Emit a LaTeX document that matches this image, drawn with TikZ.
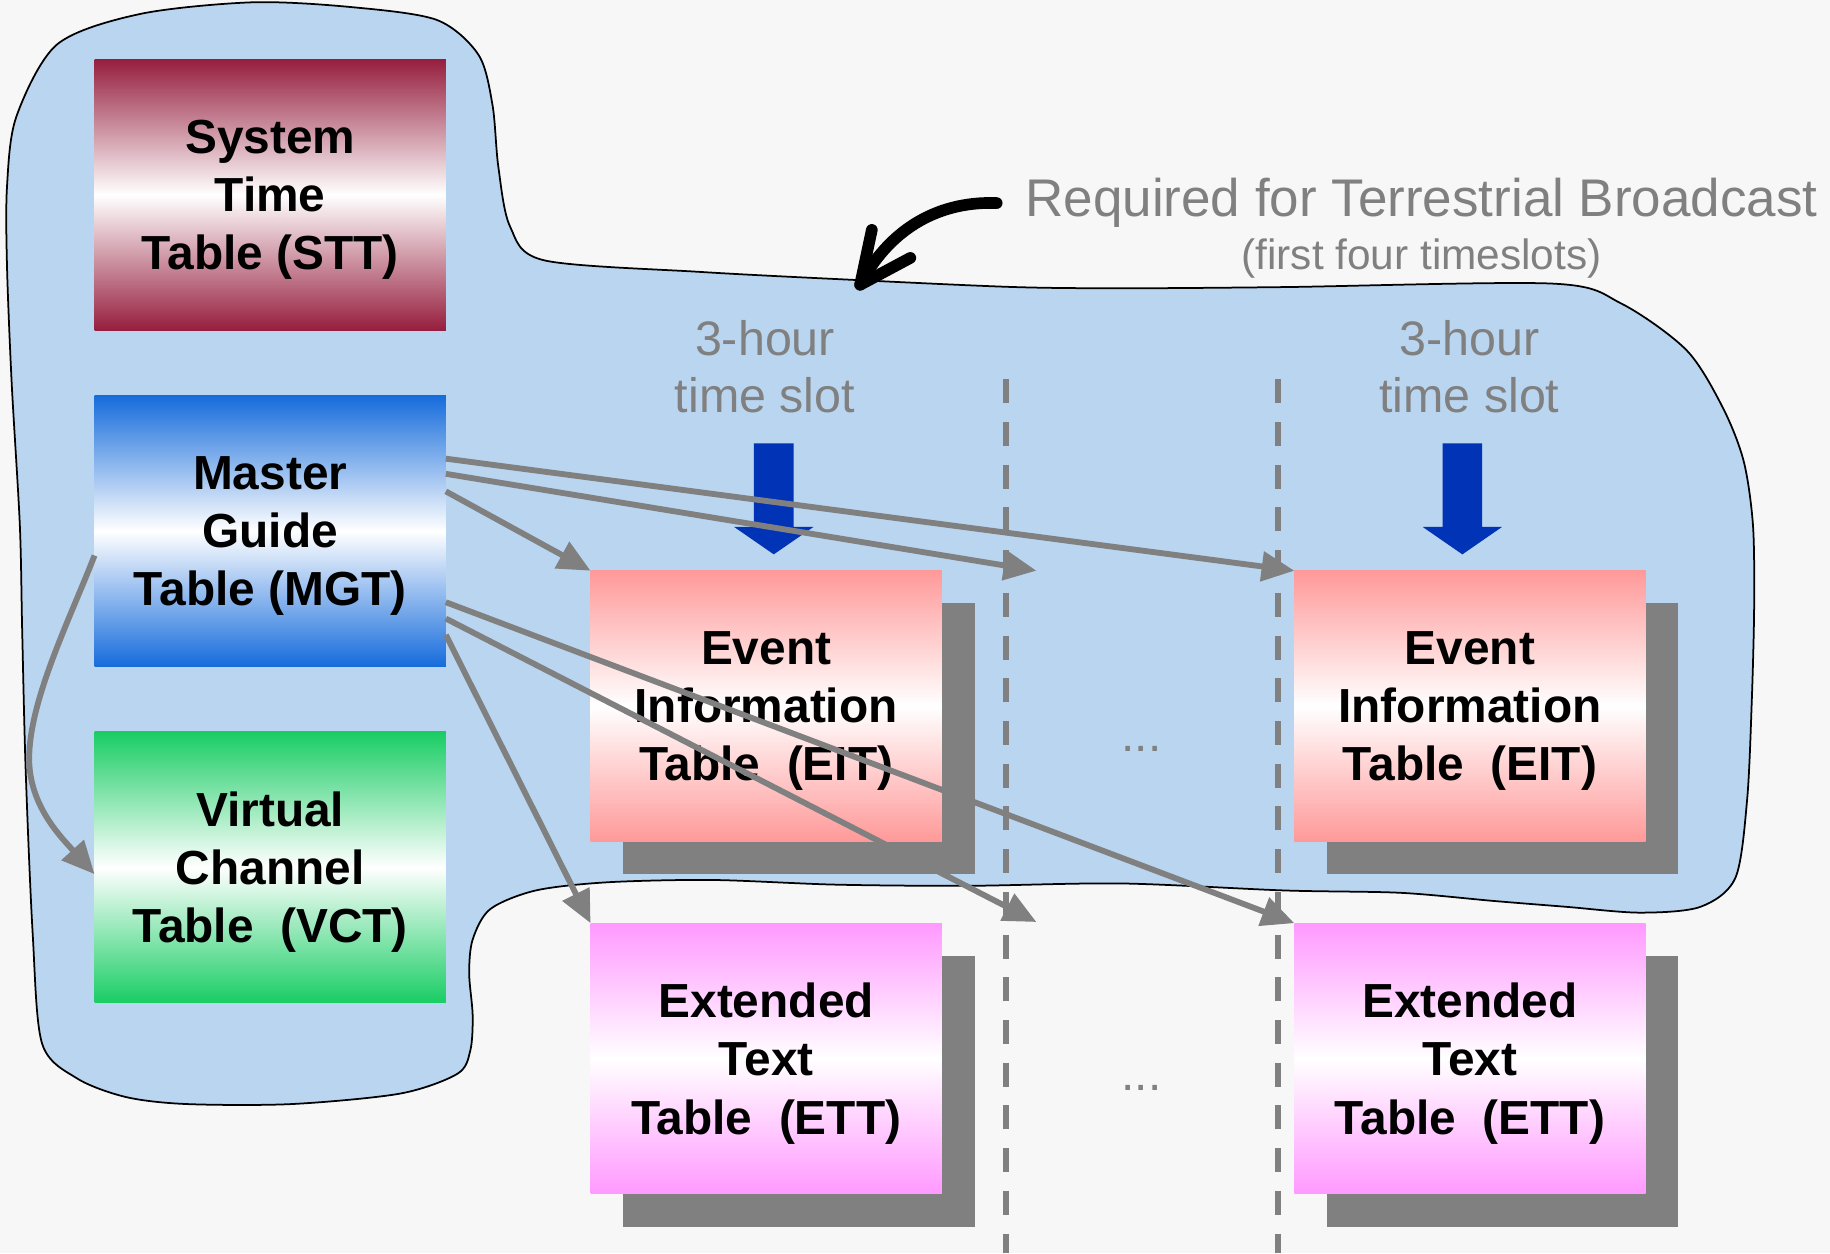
\documentclass[tikz,border=0pt]{standalone}
\usepackage{fontspec}
\setmainfont{Liberation Sans}
\usetikzlibrary{arrows.meta,calc,shadows}

\definecolor{paper}{RGB}{247,247,247}
\definecolor{zone}{RGB}{185,213,239}
\definecolor{sttred}{RGB}{150,30,62}
\definecolor{mgtblue}{RGB}{22,108,220}
\definecolor{vctgreen}{RGB}{25,205,100}
\definecolor{eitpink}{RGB}{255,153,153}
\definecolor{ettpink}{RGB}{255,153,255}
\definecolor{slotblue}{RGB}{0,51,181}
\definecolor{linkgray}{RGB}{128,128,128}

\begin{document}
\begin{tikzpicture}[x=0.1mm, y=-0.1mm,
  tablebox/.style={minimum width=30.1mm, minimum height=23.2mm, inner sep=0pt,
    outer sep=0pt, align=center, text depth=-0.5mm,
    font=\bfseries\fontsize{11.66pt}{14.22pt}\selectfont},
  grad/.style={tablebox, top color=#1, bottom color=#1, middle color=white},
  shadowed/.style={general shadow={fill=linkgray, shadow xshift=2.8mm, shadow yshift=-2.8mm}},
  link/.style={draw=linkgray, line width=0.5mm, -{Triangle[length=2.8mm,width=2.5mm]}},
  divider/.style={draw=linkgray, line width=0.49mm, dash pattern=on 2.06mm off 1.6mm},
  graytext/.style={text=linkgray, inner sep=0pt},
  slotfont/.style={font=\fontsize{11.8pt}{13.8pt}\selectfont},
]

% page
\fill[paper] (0,0) rectangle (1568,1074);
\useasboundingbox (0,0) rectangle (1568,1074);

% region of tables required for terrestrial broadcast
\filldraw[fill=zone, draw=black, line width=0.15mm]
  plot[smooth cycle, tension=0.5] coordinates {
  (216,2) (300,6) (374,17) (410,47) (422,90) (427,143) (437,194) (466,223)
  (600,233) (735,240) (870,246) (967,247) (1100,246) (1330,243) (1389,260)
  (1445,300) (1476,349) (1494,395) (1502,450) (1503,520) (1501,600) (1497,685)
  (1487,752) (1457,777) (1405,782) (1342,777) (1280,772) (1200,765) (1101,763)
  (961,757) (830,759) (716,758) (610,754) (520,756) (459,763) (420,779)
  (405,805) (402,834) (405,870) (403,900) (392,920) (343,937) (250,946)
  (160,946) (108,940) (66,924) (36,894) (28,800) (22,660) (19,540) (17,450)
  (10,328) (6,228) (6,160) (14,100) (49,38) (120,12)};

% time slot dividers
\coordinate (d1top) at (862,325);
\coordinate (d1bot) at (862,1074);
\coordinate (d2top) at (1095,325);
\coordinate (d2bot) at (1095,1074);
\draw[divider] (d1top) -- (d1bot);
\draw[divider] (d2top) -- (d2bot);

% tables
\node[grad=sttred] (stt) at (231.5,167) {System\\Time\\Table (STT)};
\node[grad=mgtblue] (mgt) at (231.5,455) {Master\\Guide\\Table (MGT)};
\node[grad=vctgreen] (vct) at (231.5,743) {Virtual\\Channel\\Table\ \ (VCT)};
\node[grad=eitpink, shadowed] (eit1) at (656.5,605) {Event\\Information\\Table\ \ (EIT)};
\node[grad=eitpink, shadowed] (eit2) at (1259.5,605) {Event\\Information\\Table\ \ (EIT)};
\node[grad=ettpink, shadowed] (ett1) at (656.5,907) {Extended\\Text\\Table\ \ (ETT)};
\node[grad=ettpink, shadowed] (ett2) at (1259.5,907) {Extended\\Text\\Table\ \ (ETT)};

% labels
\node[graytext, slotfont, align=center] (slot1) at (655.5,314) {3-hour\\time slot};
\node[graytext, slotfont, align=center] (slot2) at (1259,314) {3-hour\\time slot};
\node[graytext, font=\fontsize{11.66pt}{14pt}\selectfont, anchor=base] (more1) at (978,644) {...};
\node[graytext, font=\fontsize{11.66pt}{14pt}\selectfont, anchor=base] (more2) at (978,934) {...};
\node[graytext, font=\fontsize{12.92pt}{15pt}\selectfont, anchor=base] (req) at (1218,185.7)
  {Required for Terrestrial Broadcast};
\node[graytext, font=\fontsize{10.33pt}{12pt}\selectfont, anchor=base] (reqnote) at (1218,231)
  {(first four timeslots)};

% slot arrows
\foreach \cx in {663,1253} {
  \fill[slotblue] (\cx-17,380) -- (\cx+17,380) -- (\cx+17,451.5) -- (\cx+34,451.5)
    -- (\cx,475) -- (\cx-34,451.5) -- (\cx-17,451.5) -- cycle;
}

% references from the master guide table
\coordinate (eitgap) at (888,489);
\coordinate (ettgap) at (888,790);
\draw[link] ($(mgt.north east)+(0,54)$) -- (eit2.north west);
\draw[link] ($(mgt.north east)+(0,67)$) -- (eitgap);
\draw[link] ($(mgt.north east)+(0,82)$) -- (eit1.north west);
\draw[link] ($(mgt.north east)+(0,177)$) -- (ett2.north west);
\draw[link] ($(mgt.north east)+(0,191)$) -- (ettgap);
\draw[link] ($(mgt.north east)+(0,205)$) -- (ett1.north west);
\draw[link] ($(mgt.west)+(0,21)$) .. controls (60,530) and (25,600) .. (25,650)
  .. controls (25,690) and (52,717) .. ($(vct.west)+(0,6)$);

% callout arrow onto the region border
\coordinate (callfrom) at (854,174);
\coordinate (callto) at (737,244);
\begin{scope}[line width=1mm, line cap=round, line join=round]
  \draw (callfrom) .. controls (800,172) and (760,200) .. (callto);
  \draw (747,197) -- (callto) -- (780,221);
\end{scope}

\end{tikzpicture}
\end{document}
